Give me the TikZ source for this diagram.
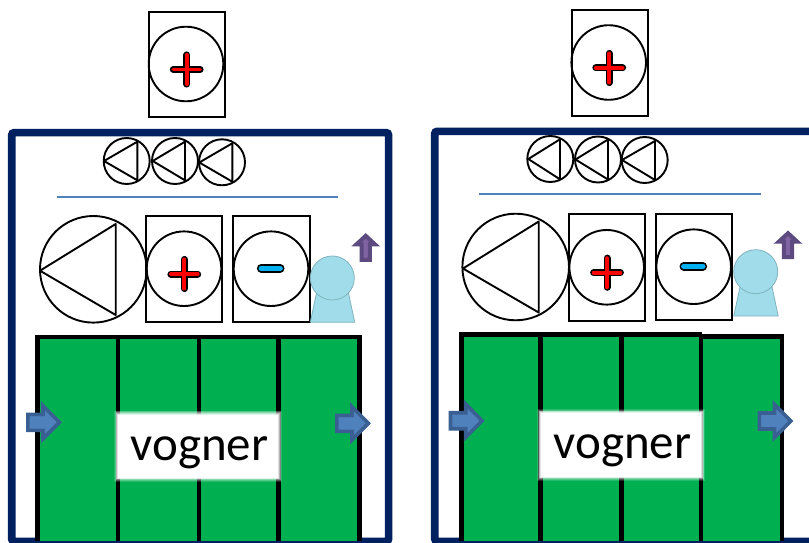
\documentclass[tikz,border=0pt]{standalone}
\usepackage{fontspec}
\setmainfont{Carlito}
\definecolor{navyframe}{HTML}{002060}
\definecolor{wagongreen}{HTML}{00B050}
\definecolor{seatblue}{HTML}{A0DCE9}
\definecolor{seatedge}{HTML}{7FB3BE}
\definecolor{flowblue}{HTML}{4F81BD}
\definecolor{flowedge}{HTML}{3A5F92}
\definecolor{upfill}{HTML}{8064A2}
\definecolor{upedge}{HTML}{5C4A80}
\definecolor{minusblue}{HTML}{00B0F0}
\tikzset{x=1pt,y=-1pt,
  frameline/.style={draw=navyframe,line width=7.6pt,rounded corners=2.5pt},
  boxline/.style={draw=black,line width=2pt},
  ringline/.style={draw=black,line width=1.9pt,line join=round},
  wagonline/.style={draw=black,line width=4.6pt},
  sepline/.style={draw=flowblue,line width=2pt},
  seatshape/.style={fill=seatblue,draw=seatedge,line width=.8pt},
  flowarrow/.style={fill=flowblue,draw=flowedge,line width=3.6pt,line join=miter},
  uparrow/.style={fill=upfill,draw=upedge,line width=4pt,line join=miter},
}
\newcommand{\pumpmark}[8]{%
  \draw[ringline] (#1,#2) circle[radius=#3];
  \draw[ringline] (#4,#5) -- (#6,#7) -- (#6,#8) -- cycle;}
\newcommand{\plusmark}[2]{%
  \draw[black,line width=7pt,line cap=round] (#1-13.4,#2) -- (#1+13.4,#2) (#1,#2-14.6) -- (#1,#2+14.6);
  \draw[red,line width=3.8pt,line cap=round] (#1-13.4,#2) -- (#1+13.4,#2) (#1,#2-14.6) -- (#1,#2+14.6);}
\newcommand{\minusmark}[2]{%
  \draw[black,line width=8.6pt,line cap=round] (#1-9.5,#2) -- (#1+9.5,#2);
  \draw[minusblue,line width=5.4pt,line cap=round] (#1-9.5,#2) -- (#1+9.5,#2);}
\newcommand{\flowmark}[2]{%
  \draw[flowarrow] (#1+1.8,#2-8) -- (#1+17,#2-8) -- (#1+17,#2-16.5) -- (#1+33.4,#2) -- (#1+17,#2+16.5) -- (#1+17,#2+8) -- (#1+1.8,#2+8) -- cycle;}
\newcommand{\upmark}[2]{%
  \draw[uparrow] (#1,#2+3.5) -- (#1+9.2,#2+12) -- (#1+4.2,#2+12) -- (#1+4.2,#2+27.5) -- (#1-4.2,#2+27.5) -- (#1-4.2,#2+12) -- (#1-9.2,#2+12) -- cycle;}
\newcommand{\seatmark}[4]{%
  \draw[seatshape] (#1,#2) -- (#1+6.4,#2-30) -- (#1+38,#2-30) -- (#1+44.4,#2) -- cycle;
  \draw[seatshape] (#3,#4) circle[radius=22];}
\newcommand{\softpatch}[4]{%
  \foreach \w/\o in {8/.15,6.5/.2,5/.3,3.5/.4,2/.6}{\draw[white,opacity=\o,line width=\w pt] (#1,#2) rectangle (#3,#4);}
  \fill[white] (#1,#2) rectangle (#3,#4);}
\begin{document}
\begin{tikzpicture}
\useasboundingbox (0,0) rectangle (809,543);
\clip (0,0) rectangle (809,543);
\fill[white] (0,0) rectangle (809,543);
% ---------- left panel ----------
\draw[boxline] (148.8,12.2) rectangle (225,117.2);
\draw[ringline] (186,64) circle[radius=37.3];
\plusmark{186.7}{69.5}
\draw[frameline] (11.7,132.6) rectangle (388.6,541.5);
\pumpmark{126.7}{161}{23}{104}{161}{137.3}{141.7}{180.3}
\pumpmark{175}{161}{23}{152.7}{161}{185}{141.7}{180.3}
\pumpmark{222}{162.3}{23}{199.3}{162.5}{232.3}{143.3}{181.7}
\draw[sepline] (56.7,196.7) -- (338.3,196.7);
\pumpmark{93.3}{269.3}{53.3}{40}{270.7}{115.7}{224}{315}
\draw[boxline] (146,215.8) rectangle (222.3,322.2);
\draw[ringline] (184,268.7) circle[radius=37.3];
\plusmark{184.3}{274}
\draw[boxline] (233,215.8) rectangle (309.7,322.2);
\draw[ringline] (271,268.7) circle[radius=37.3];
\minusmark{270.7}{268.3}
\seatmark{310.3}{322.2}{332.3}{278}
\upmark{365.7}{232.3}
\fill[wagongreen] (37.2,337) rectangle (359.5,541);
\draw[wagonline] (37.2,541) -- (37.2,337) -- (359.5,337) -- (359.5,541);
\draw[wagonline] (118,337) -- (118,541) (199,337) -- (199,541) (278.3,337) -- (278.3,541);
\softpatch{118}{414.5}{278}{477.5}
\node[inner sep=0pt,font=\fontsize{49}{49}\selectfont] (vogL) at (199.5,452.5) {vogner};
\flowmark{26}{422.3}
\flowmark{335}{423.3}
% ---------- right panel ----------
\draw[boxline] (571.5,10.5) rectangle (647.7,115.7);
\draw[ringline] (608.7,62.5) circle[radius=37.3];
\plusmark{609.2}{68}
\draw[frameline] (434.7,131.3) -- (815,131.3) -- (815,541.3) -- (434.7,541.3) -- cycle;
\pumpmark{550.3}{159}{23}{528.3}{159}{560}{139.3}{179.3}
\pumpmark{598}{159.5}{23}{575.5}{159.5}{608}{139.5}{179.5}
\pumpmark{644.7}{160}{23}{622}{160}{655}{141}{180}
\draw[sepline] (479.3,194) -- (760.7,194);
\pumpmark{515.7}{267}{53.3}{463}{268.5}{538.7}{221.5}{312.5}
\draw[boxline] (568.8,214.4) rectangle (645,320.8);
\draw[ringline] (606.7,267.3) circle[radius=37.3];
\plusmark{607}{272.7}
\draw[boxline] (655.7,214.4) rectangle (732.3,319.8);
\draw[ringline] (693.7,266.7) circle[radius=37.3];
\minusmark{693.3}{266.3}
\seatmark{733.8}{316}{755.7}{271.7}
\upmark{788}{229.7}
\fill[wagongreen] (461.5,336) rectangle (781.8,541);
\draw[wagonline] (461.5,541) -- (461.5,334.5) -- (702,334.5);
\draw[wagonline] (700,336.5) -- (781.8,336.5) -- (781.8,541);
\draw[wagonline] (540.7,335) -- (540.7,541) (621.3,335) -- (621.3,541) (701,335) -- (701,541);
\softpatch{541}{413}{701}{476.5}
\node[inner sep=0pt,font=\fontsize{49}{49}\selectfont] (vogR) at (622.5,450.5) {vogner};
\flowmark{448.7}{420.7}
\flowmark{757.5}{421}
\end{tikzpicture}
\end{document}
